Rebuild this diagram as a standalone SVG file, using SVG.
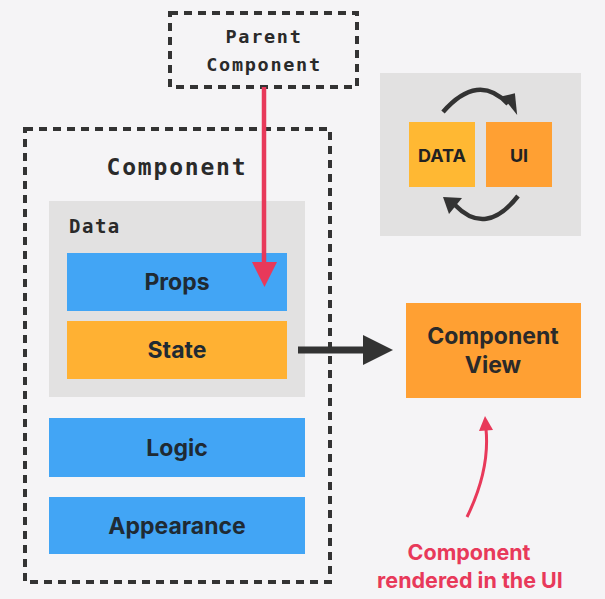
<svg xmlns="http://www.w3.org/2000/svg" width="605" height="599" viewBox="0 0 605 599">
  <defs>
    <style>
      .dash { fill: none; stroke: #333333; stroke-width: 4; stroke-dasharray: 8 6; }
      .grey { fill: #e2e1e1; }
      .blue { fill: #42a5f5; }
      .mono { font-family: "DejaVu Sans Mono", "Liberation Mono", monospace; font-weight: bold; fill: #2a2a2a; }
      .sans { font-family: Inter, "Liberation Sans", sans-serif; font-weight: bold; fill: #1f2a33; text-anchor: middle; }
      .red { fill: #e8395a; }
    </style>
  </defs>
  <rect width="605" height="599" fill="#f5f4f6"/>

  <g id="parent-component">
    <rect class="dash" x="170" y="13" width="187" height="74"/>
    <text class="mono" x="264" y="43" font-size="18.5" letter-spacing="1.7" text-anchor="middle">Parent</text>
    <text class="mono" x="264" y="71" font-size="18.5" letter-spacing="1.7" text-anchor="middle">Component</text>
  </g>

  <g id="component">
    <rect class="dash" x="25" y="129" width="305" height="453"/>
    <text class="mono" x="177" y="175" font-size="23" letter-spacing="1.8" text-anchor="middle">Component</text>
  </g>

  <g id="data">
    <rect class="grey" x="49" y="201" width="256" height="196"/>
    <text class="mono" x="69" y="233" font-size="19" letter-spacing="1.5">Data</text>
  </g>

  <g id="props">
    <rect class="blue" x="67" y="253" width="220" height="58"/>
    <text class="sans" x="177" y="290" font-size="23">Props</text>
  </g>

  <g id="state">
    <rect x="67" y="321" width="220" height="58" fill="#ffb133"/>
    <text class="sans" x="177" y="358" font-size="23">State</text>
  </g>

  <g id="logic">
    <rect class="blue" x="49" y="418" width="256" height="59"/>
    <text class="sans" x="177" y="456" font-size="23">Logic</text>
  </g>

  <g id="appearance">
    <rect class="blue" x="49" y="497" width="256" height="57"/>
    <text class="sans" x="177" y="534" font-size="23">Appearance</text>
  </g>

  <g id="data-ui-cycle">
    <rect class="grey" x="380" y="73" width="201" height="163"/>
    <rect x="409" y="122" width="66" height="65" fill="#ffb833"/>
    <rect x="486" y="122" width="66" height="65" fill="#ffa033"/>
    <text class="sans" x="442" y="162" font-size="18" style="fill:#222222">DATA</text>
    <text class="sans" x="519" y="162" font-size="18" style="fill:#222222">UI</text>
  </g>

  <g id="component-view">
    <rect x="406" y="303" width="175" height="95" fill="#ffa033"/>
    <text class="sans" x="493" y="344" font-size="23" style="fill:#2a2a2a">Component</text>
    <text class="sans" x="493" y="373" font-size="23" style="fill:#2a2a2a">View</text>
  </g>

  <g id="caption">
    <text class="sans" x="469" y="560" font-size="21.5" style="fill:#e8395a">Component</text>
    <text class="sans" x="470" y="588" font-size="21.5" style="fill:#e8395a">rendered in the UI</text>
  </g>

  <g id="connectors">
    <line x1="264" y1="87" x2="264" y2="264" stroke="#e8395a" stroke-width="4.5"/>
    <path d="M252,262 L277,262 L264.5,287 Z" class="red"/>
    <line x1="298" y1="350" x2="365" y2="350" stroke="#333333" stroke-width="7"/>
    <path d="M363,335 L393,350 L363,365 Z" fill="#333333"/>
    <path d="M467,517 Q490,470 486,429" fill="none" stroke="#e8395a" stroke-width="3"/>
    <path d="M479,431 L485,416 L493,430 Z" class="red"/>
    <path d="M443,112 Q478,72 508,104" fill="none" stroke="#333333" stroke-width="4.5"/>
    <path d="M501,98 L519,114 L513,93 Z" fill="#333333" transform="rotate(10 512 104)"/>
    <path d="M518,196 Q486,237 455,205" fill="none" stroke="#333333" stroke-width="4.5"/>
    <path d="M443,197 L462,198 L449,214 Z" fill="#333333"/>
  </g>
</svg>
